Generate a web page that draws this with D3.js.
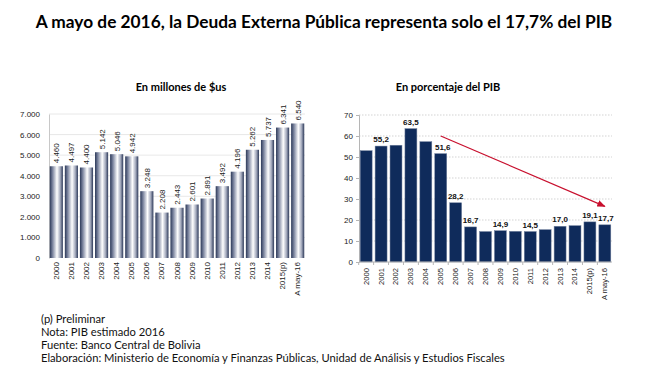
<!DOCTYPE html>
<html>
<head>
<meta charset="utf-8">
<script src="https://cdn.jsdelivr.net/npm/d3@7"></script>
<style>
  body { margin: 0; background: #fff; }
  svg text { font-family: "Liberation Sans", Arial, sans-serif; }
  .cal { font-family: Lato, "Open Sans", sans-serif; }
</style>
</head>
<body>
<svg id="chart" width="650" height="376"></svg>
<script>
// categorías comunes
const years = ["2000", "2001", "2002", "2003", "2004", "2005", "2006", "2007", "2008",
  "2009", "2010", "2011", "2012", "2013", "2014", "2015(p)", "A may-16"];

// deuda en millones de $us
const deudaMillones = [4460, 4497, 4400, 5142, 5046, 4942, 3248, 2208, 2443,
  2601, 2891, 3492, 4196, 5262, 5737, 6341, 6540];

// deuda en % del PIB (los no rotulados son estimados)
const deudaPib = [53.0, 55.2, 55.6, 63.5, 57.3, 51.6, 28.2, 16.7, 14.5,
  14.9, 14.6, 14.5, 15.4, 17.0, 17.3, 19.1, 17.7];
// cuáles llevan etiqueta
const pibConEtiqueta = ["2001", "2003", "2005", "2006", "2007", "2009", "2011", "2013", "2015(p)", "A may-16"];

const ticksMillones = [0, 1000, 2000, 3000, 4000, 5000, 6000, 7000];
const ticksPib = [0, 10, 20, 30, 40, 50, 60, 70];

// flecha de tendencia: [categoría, valor]
const flecha = [["2005", 60], ["A may-16", 26.5]];

const notas = [
  "(p) Preliminar",
  "Nota: PIB estimado 2016",
  "Fuente: Banco Central de Bolivia",
  "Elaboración: Ministerio de Economía y Finanzas Públicas, Unidad de Análisis y Estudios Fiscales"
];

const fmtMil = (v) => d3.format(",")(v).replace(/,/g, ".");
const fmtDec = (v) => v.toFixed(1).replace(".", ",");

const svg = d3.select("#chart");
const defs = svg.append("defs");

// degradado tipo cilindro para las barras de la izquierda
const grad = defs.append("linearGradient").attr("id", "cil")
  .attr("x1", "0%").attr("x2", "100%").attr("y1", "0%").attr("y2", "0%");
[[0, "#2b3858"], [0.22, "#7d86a0"], [0.55, "#ffffff"], [0.8, "#a3a9bc"], [1, "#2b3858"]]
  .forEach(([o, c]) => grad.append("stop").attr("offset", o).attr("stop-color", c));

defs.append("marker").attr("id", "punta")
  .attr("viewBox", "0 0 10 10").attr("refX", 9).attr("refY", 5)
  .attr("markerWidth", 7).attr("markerHeight", 7).attr("orient", "auto")
  .append("path").attr("d", "M0,1 L10,5 L0,9 Z").attr("fill", "#c8102e");

// título
svg.append("text").attr("class", "cal")
  .attr("x", 324).attr("y", 28).attr("text-anchor", "middle")
  .style("font-size", "17.3px").style("font-weight", "bold")
  .text("A mayo de 2016, la Deuda Externa Pública representa solo el 17,7% del PIB");

svg.append("text").attr("class", "cal")
  .attr("x", 181).attr("y", 91).attr("text-anchor", "middle")
  .style("font-size", "11px").style("font-weight", "bold")
  .text("En millones de $us");
svg.append("text").attr("class", "cal")
  .attr("x", 448).attr("y", 91).attr("text-anchor", "middle")
  .style("font-size", "11px").style("font-weight", "bold")
  .text("En porcentaje del PIB");

// ---------- gráfico izquierdo ----------
const x1 = d3.scaleBand().domain(years).range([49, 305]).paddingInner(0.13).paddingOuter(0.05);
const y1 = d3.scaleLinear().domain([0, 7000]).range([258, 114]);

const g1 = svg.append("g");
g1.append("g").selectAll("line").data(ticksMillones.slice(1)).join("line")
  .attr("x1", 49).attr("x2", 305)
  .attr("y1", (d) => y1(d)).attr("y2", (d) => y1(d))
  .attr("stroke", "#e2e2e2").attr("stroke-width", 0.8);

g1.append("g").attr("transform", "translate(49,0)")
  .call(d3.axisLeft(y1).tickValues(ticksMillones).tickFormat(fmtMil).tickSize(0).tickPadding(9))
  .call((g) => g.select(".domain").attr("stroke", "#c8c8c8"))
  .call((g) => g.selectAll("text").style("font-size", "8px").attr("fill", "#222"));

g1.append("g").selectAll("rect").data(deudaMillones).join("rect")
  .attr("x", (d, i) => x1(years[i]))
  .attr("width", x1.bandwidth())
  .attr("y", (d) => y1(d))
  .attr("height", (d) => y1(0) - y1(d))
  .attr("fill", "url(#cil)");

g1.append("g").selectAll("text").data(deudaMillones).join("text")
  .attr("transform", (d, i) => `translate(${x1(years[i]) + x1.bandwidth() / 2 + 3},${y1(d) - 3}) rotate(-90)`)
  .style("font-size", "8px").attr("fill", "#222")
  .text((d) => fmtMil(d));

g1.append("g").attr("transform", "translate(0,258)")
  .call(d3.axisBottom(x1).tickSize(0).tickPadding(0))
  .call((g) => g.select(".domain").remove())
  .call((g) => g.selectAll("text")
    .attr("transform", "rotate(-90)").attr("text-anchor", "end")
    .attr("x", -4).attr("y", 0).attr("dy", "0.32em")
    .style("font-size", "8px").attr("fill", "#222"));

// ---------- gráfico derecho ----------
const x2 = d3.scaleBand().domain(years).range([359, 612]).paddingInner(0.2).paddingOuter(0.08);
const y2 = d3.scaleLinear().domain([0, 70]).range([262, 115]);

const g2 = svg.append("g");
g2.append("g").selectAll("line").data(ticksPib.slice(1)).join("line")
  .attr("x1", 359).attr("x2", 612)
  .attr("y1", (d) => y2(d)).attr("y2", (d) => y2(d))
  .attr("stroke", "#c8c8c8").attr("stroke-width", 0.8).attr("stroke-dasharray", "1.5,1.5");

g2.append("g").attr("transform", "translate(359,0)")
  .call(d3.axisLeft(y2).tickValues(ticksPib).tickSize(3).tickPadding(3))
  .call((g) => g.selectAll(".domain, line").attr("stroke", "#b5b5b5"))
  .call((g) => g.selectAll("text").style("font-size", "8px").attr("fill", "#222"));

g2.append("g").selectAll("rect").data(deudaPib).join("rect")
  .attr("x", (d, i) => x2(years[i]))
  .attr("width", x2.bandwidth())
  .attr("y", (d) => y2(d))
  .attr("height", (d) => y2(0) - y2(d))
  .attr("fill", "#0f2b5b").attr("stroke", "#6f7f9c").attr("stroke-width", 0.5);

g2.append("g").selectAll("text")
  .data(deudaPib.map((v, i) => ({ v, c: years[i] })).filter((d) => pibConEtiqueta.includes(d.c)))
  .join("text")
  .attr("x", (d) => x2(d.c) + x2.bandwidth() / 2 + (d.c === "2005" ? 2 : d.c === "A may-16" ? 1 : 0))
  .attr("y", (d) => y2(d.v) - 4)
  .attr("text-anchor", "middle")
  .style("font-size", "8px").style("font-weight", "bold").attr("fill", "#111")
  .text((d) => fmtDec(d.v));

// eje x con marcas entre barras
g2.append("line").attr("x1", 359).attr("x2", 612).attr("y1", 262).attr("y2", 262)
  .attr("stroke", "#b5b5b5");
g2.append("g").selectAll("line").data(years).join("line")
  .attr("x1", (d) => x2(d) - x2.step() * x2.paddingInner() / 2)
  .attr("x2", (d) => x2(d) - x2.step() * x2.paddingInner() / 2)
  .attr("y1", 262).attr("y2", 265).attr("stroke", "#b5b5b5");

g2.append("g").attr("transform", "translate(0,262)")
  .call(d3.axisBottom(x2).tickSize(0).tickPadding(0))
  .call((g) => g.select(".domain").remove())
  .call((g) => g.selectAll("text")
    .attr("transform", "rotate(-90)").attr("text-anchor", "end")
    .attr("x", -6).attr("y", 0).attr("dy", "0.32em")
    .style("font-size", "7.6px").attr("fill", "#222"));

// flecha roja de tendencia
g2.append("line")
  .attr("x1", x2(flecha[0][0]) + x2.bandwidth() / 2).attr("y1", y2(flecha[0][1]))
  .attr("x2", x2(flecha[1][0]) + x2.bandwidth() / 2).attr("y2", y2(flecha[1][1]))
  .attr("stroke", "#c8102e").attr("stroke-width", 1.2)
  .attr("marker-end", "url(#punta)");

// notas al pie
svg.append("g").selectAll("text").data(notas).join("text").attr("class", "cal")
  .attr("x", 41).attr("y", (d, i) => 323 + i * 13)
  .style("font-size", "11.2px").attr("fill", "#111")
  .text((d) => d);
</script>
</body>
</html>
